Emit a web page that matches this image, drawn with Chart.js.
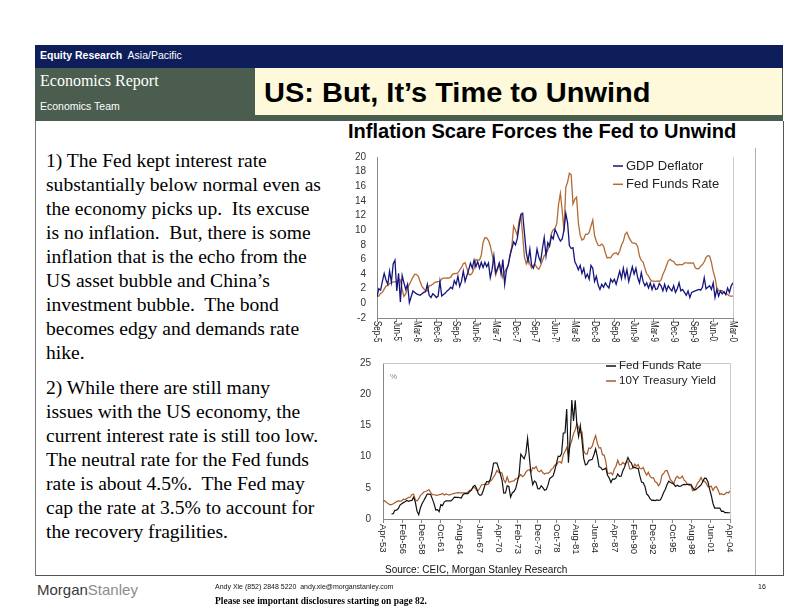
<!DOCTYPE html>
<html lang="en">
<head>
<meta charset="utf-8">
<title>US: But, It's Time to Unwind</title>
<script src="https://cdn.jsdelivr.net/npm/chart.js@4.4.1/dist/chart.umd.min.js"></script>
<style>
  html, body { margin: 0; padding: 0; background: #fff; }
  body { position: relative; width: 792px; height: 612px; overflow: hidden; font-family: Arial, "Liberation Sans", sans-serif; }
  .abs { position: absolute; white-space: nowrap; }
  #bandTop { left: 35px; top: 45px; width: 748px; height: 23px; background: #0e1e5b; }
  #bandGreen { left: 35px; top: 68px; width: 748px; height: 53px; background: #4b5d4e; }
  #titleBox { left: 255px; top: 68px; width: 527px; height: 47px; background: #fdf9da; }
  #frame { left: 35px; top: 121px; width: 747px; height: 454px; border-left: 1px solid #777; border-right: 1px solid #555; border-bottom: 1px solid #555; }
  #chartEdge { left: 755px; top: 148px; width: 1px; height: 427px; background: #b0b0b0; }
  .white { color: #fff; }
  .serif { font-family: "Liberation Serif", "Times New Roman", serif; }
  .body { left: 46px; font-size: 18px; line-height: 24px; color: #000; transform: scaleX(1.087); transform-origin: left top; }
  canvas { position: absolute; }
</style>
</head>
<body>
  <div class="abs" id="bandTop"></div>
  <div class="abs white" style="left:40px; top:50px; font-size:10.5px; line-height:10.5px;"><b>Equity Research</b>&nbsp; Asia/Pacific</div>
  <div class="abs" id="bandGreen"></div>
  <div class="abs white serif" style="left:40px; top:72.6px; font-size:16px; line-height:16px;">Economics Report</div>
  <div class="abs white" style="left:40px; top:101.3px; font-size:10.5px; line-height:10.5px;">Economics Team</div>
  <div class="abs" id="titleBox"></div>
  <div class="abs" style="left:264px; top:78.8px; font-size:28px; line-height:28px; font-weight:bold; color:#000; transform:scaleX(1.035); transform-origin:left top;">US: But, It’s Time to Unwind</div>
  <div class="abs" id="frame"></div>
  <div class="abs" id="chartEdge"></div>

  <div class="abs serif body" style="top:148.9px;">1) The Fed kept interest rate<br>substantially below normal even as<br>the economy picks up.&nbsp; Its excuse<br>is no inflation.&nbsp; But, there is some<br>inflation that is the echo from the<br>US asset bubble and China’s<br>investment bubble.&nbsp; The bond<br>becomes edgy and demands rate<br>hike.</div>
  <div class="abs serif body" style="top:375.9px;">2) While there are still many<br>issues with the US economy, the<br>current interest rate is still too low.<br>The neutral rate for the Fed funds<br>rate is about 4.5%.&nbsp; The Fed may<br>cap the rate at 3.5% to account for<br>the recovery fragilities.</div>

  <div class="abs" style="left:348px; top:122px; font-size:19.5px; line-height:19.5px; font-weight:bold; color:#000; transform:scaleX(1.027); transform-origin:left top;">Inflation Scare Forces the Fed to Unwind</div>
  <canvas id="inflationChart" width="420" height="202" style="left:340px; top:140px;"></canvas>
  <canvas id="yieldChart" width="420" height="220" style="left:340px; top:345px;"></canvas>
  <div class="abs" style="left:385px; top:564.7px; font-size:10px; line-height:10px; color:#111;">Source: CEIC, Morgan Stanley Research</div>

  <div class="abs" style="left:37px; top:582px; font-size:15px; line-height:15px;"><span style="color:#3a3a3a;">Morgan</span><span style="color:#8c8c8c;">Stanley</span></div>
  <div class="abs" style="left:215px; top:583.2px; font-size:7px; line-height:7px; color:#111;">Andy Xie (852) 2848 5220&nbsp; andy.xie@morganstanley.com</div>
  <div class="abs" style="left:758px; top:583.2px; font-size:7px; line-height:7px; color:#111;">16</div>
  <div class="abs serif" style="left:215px; top:597px; font-size:9.5px; line-height:9.5px; font-weight:bold; color:#000;">Please see important disclosures starting on page 82.</div>

<script>
// --- DADOS: GRÁFICO 1 (trimestral, Sep-54 .. Mar-04) ---
const inflationTickLabels = ['Sep-54', 'Jun-57', 'Mar-60', 'Dec-62', 'Sep-65', 'Jun-68', 'Mar-71', 'Dec-73', 'Sep-76', 'Jun-79',
  'Mar-82', 'Dec-84', 'Sep-87', 'Jun-90', 'Mar-93', 'Dec-95', 'Sep-98', 'Jun-01', 'Mar-04'];
const QUARTERS_PER_TICK = 11;

const gdpDeflator = [
  0.9, 2.0, 1.8, 3.0, 4.1, 3.2, 2.6, 4.4, 2.9, 5.4,
  5.9, 1.7, 4.1, 0.2, 3.8, 2.8, 1.9, 2.6, 0.1, 0.9,
  1.7, 1.5, 1.3, 1.2, 1.1, 1.3, 1.5, 1.6, 2.6, 1.1,
  0.8, 1.3, 1.1, 0.8, 1.0, 3.0, 1.0, 1.2, 1.4, 1.7,
  1.9, 2.2, 2.0, 3.1, 2.6, 3.7, 2.3, 3.0, 4.4, 3.0,
  3.8, 4.6, 5.5, 4.8, 5.9, 5.0, 5.7, 4.8, 5.6, 4.9,
  5.6, 5.0, 5.5, 3.5, 4.6, 6.5, 4.2, 4.8, 5.5, 4.0,
  6.0, 2.6, 4.5, 5.3, 6.6, 7.5, 8.4, 8.0, 8.8, 10.5,
  12.1, 12.3, 9.6, 7.0, 5.7, 7.4, 5.2, 4.8, 5.7, 7.4,
  6.3, 5.7, 7.5, 9.0, 6.5, 8.3, 7.8, 9.2, 8.8, 10.1,
  9.6, 9.0, 8.5, 8.8, 10.0, 12.3, 11.0, 7.9, 7.5, 7.6,
  5.7, 5.2, 4.6, 5.2, 4.1, 4.8, 3.5, 4.0, 3.3, 5.2,
  4.8, 3.0, 3.7, 2.5, 1.9, 2.6, 2.2, 2.8, 2.4, 2.1,
  3.3, 2.9, 3.3, 2.6, 3.5, 4.4, 3.4, 4.8, 3.5, 4.6,
  3.0, 4.0, 5.0, 4.0, 4.8, 3.5, 2.8, 4.2, 3.0, 2.4,
  2.8, 2.1, 2.8, 1.9, 2.6, 1.9, 2.0, 2.7, 2.4, 1.7,
  2.6, 1.7, 2.4, 2.0, 1.7, 2.4, 1.5, 2.0, 2.8, 1.7,
  1.9, 1.5, 1.1, 1.7, 0.8, 1.5, 1.6, 1.7, 1.8, 1.9,
  1.8, 2.2, 3.5, 2.0, 2.2, 2.4, 1.9, 2.8, 0.8, 1.9,
  1.0, 1.7, 1.3, 1.6, 1.2, 2.1, 1.5, 2.4, 2.8
];

const fedFundsQuarterly = [
  1.0, 1.0,
  1.35, 1.5, 1.94, 2.36,   2.48, 2.69, 2.81, 2.93,   2.93, 3.0, 3.23, 3.2,   1.86, 0.94, 1.32, 2.16,
  2.57, 3.08, 3.58, 3.99,  3.93, 3.70, 2.94, 2.30,   2.0, 1.73, 1.68, 2.40,  2.46, 2.61, 2.85, 2.92,
  2.96, 2.96, 3.33, 3.45,  3.46, 3.49, 3.46, 3.58,   3.97, 4.08, 4.07, 4.17, 4.56, 4.91, 5.41, 5.56,
  4.82, 3.99, 3.89, 4.17,  4.79, 5.98, 5.94, 5.92,   6.57, 8.33, 8.98, 8.94, 8.57, 7.88, 6.70, 5.57,
  3.86, 4.56, 5.47, 4.75,  3.55, 4.30, 4.74, 5.14,   6.54, 7.82, 10.56, 10.0, 9.32, 11.25, 12.09, 9.35,
  6.30, 5.42, 6.16, 5.41,  4.83, 5.20, 5.28, 4.87,   4.66, 5.16, 5.82, 6.51, 6.76, 7.28, 8.10, 9.58,
  10.07, 10.18, 10.95, 13.58, 15.05, 12.69, 9.84, 15.85, 16.57, 17.78, 17.58, 13.59, 14.23, 14.51, 11.01, 9.29,
  8.65, 8.80, 9.46, 9.43,  9.69, 10.56, 11.39, 9.27, 8.48, 7.92, 7.90, 8.10, 7.83, 6.92, 6.21, 6.27,
  6.22, 6.65, 6.84, 6.92,  6.66, 7.16, 7.98, 8.47,   9.44, 9.73, 9.08, 8.61, 8.25, 8.24, 8.16, 7.74,
  6.43, 5.86, 5.64, 4.82,  4.02, 3.77, 3.26, 3.04,   3.04, 3.00, 3.06, 2.99, 3.21, 3.94, 4.49, 5.17,
  5.81, 6.02, 5.80, 5.72,  5.36, 5.24, 5.31, 5.28,   5.28, 5.52, 5.53, 5.51, 5.52, 5.50, 5.53, 4.86,
  4.73, 4.75, 5.09, 5.31,  5.68, 6.27, 6.52, 6.47,   5.59, 4.33, 3.50, 2.13, 1.73, 1.75, 1.74, 1.44,
  1.25, 1.25, 1.02, 1.00,
  1.00
];

// --- DADOS: GRÁFICO 2 (um ponto a cada 3 meses, Apr-53 .. Apr-04) ---
const yieldTickLabels = ['Apr-53', 'Feb-56', 'Dec-58', 'Oct-61', 'Aug-64', 'Jun-67', 'Apr-70', 'Feb-73', 'Dec-75', 'Oct-78',
  'Aug-81', 'Jun-84', 'Apr-87', 'Feb-90', 'Dec-92', 'Oct-95', 'Aug-98', 'Jun-01', 'Apr-04'];
const MONTHS_PER_TICK = 34;
const MONTHS_PER_POINT = 3;

const fedFundsMonthly = [
  null, null, null,
  null, null, 0.80, 0.85,   1.39, 1.43, 1.68, 2.24,   2.45, 2.62, 2.75, 2.96,   2.84, 2.96, 2.99, 3.50,
  2.72, 1.26, 0.68, 1.80,   2.48, 2.96, 3.47, 4.00,   3.99, 3.92, 3.23, 2.47,   1.45, 1.50, 1.17, 2.29,
  2.15, 2.71, 2.92, 2.90,   2.92, 2.90, 3.18, 3.50,   3.48, 3.48, 3.42, 3.36,   3.90, 4.07, 4.09, 4.08,
  4.42, 4.65, 5.17, 5.40,   4.94, 4.05, 3.79, 3.88,   4.61, 5.50, 6.02, 5.92,   6.30, 7.41, 8.95, 9.00,
  8.98, 8.10, 7.18, 6.20,   4.14, 4.16, 5.31, 5.20,   3.50, 4.17, 4.40, 4.87,   5.94, 7.12, 10.40, 10.01,
  9.65, 10.51, 12.92, 10.06, 7.13, 5.49, 6.10, 5.82,  4.87, 4.82, 5.31, 5.03,   4.61, 4.73, 5.42, 6.47,
  6.70, 6.90, 7.81, 8.96,   10.07, 10.01, 10.47, 13.77, 13.82, 17.61, 9.03, 12.81, 19.08, 15.72, 19.04, 15.08,
  13.22, 14.94, 12.59, 9.71, 8.68, 8.80, 9.37, 9.48,  9.56, 10.29, 11.23, 9.99,  8.35, 8.27, 7.88, 7.99,
  8.14, 6.99, 6.56, 5.85,   6.43, 6.36, 6.58, 7.22,   6.83, 6.87, 7.75, 8.30,   9.12, 9.84, 9.24, 8.99,
  8.23, 8.26, 8.15, 8.11,   6.91, 5.91, 5.82, 5.21,   4.03, 3.73, 3.25, 2.99,   3.02, 2.96, 3.06, 2.99,
  3.05, 3.56, 4.26, 4.76,   5.53, 6.05, 5.85, 5.76,   5.56, 5.22, 5.40, 5.24,   5.25, 5.45, 5.54, 5.50,
  5.56, 5.45, 5.54, 5.07,   4.63, 4.74, 4.99, 5.20,   5.45, 6.02, 6.54, 6.51,   5.98, 4.80, 3.77, 2.49,
  1.73, 1.75, 1.73, 1.75,   1.24, 1.26, 1.01, 1.01,
  1.00, 1.00
];

const treasury10y = [
  2.83, 2.93, 2.66,
  2.48, 2.29, 2.30, 2.43,   2.61, 2.78, 2.90, 2.87,   2.90, 3.18, 3.11, 3.30,   3.46, 3.48, 3.93, 3.97,
  3.09, 2.88, 3.21, 3.80,   4.02, 4.32, 4.40, 4.53,   4.72, 4.28, 3.90, 3.89,   3.84, 3.78, 3.92, 3.94,
  4.08, 3.84, 4.01, 3.93,   3.83, 3.97, 4.02, 4.11,   4.17, 4.23, 4.20, 4.19,   4.19, 4.20, 4.20, 4.34,
  4.61, 4.69, 5.02, 5.01,   4.58, 4.55, 5.01, 5.48,   5.53, 5.59, 5.50, 5.58,   6.04, 6.26, 6.72, 7.16,
  7.79, 7.46, 7.46, 7.33,   6.24, 5.83, 6.73, 5.93,   5.95, 6.08, 6.11, 6.43,   6.46, 6.77, 7.13, 6.79,
  6.99, 7.51, 7.81, 7.90,   7.50, 8.23, 8.06, 8.43,   7.74, 7.56, 7.83, 7.41,   7.21, 7.37, 7.33, 7.52,
  7.96, 8.15, 8.64, 8.64,   9.10, 9.18, 8.95, 10.30,  10.80, 11.47, 10.25, 11.75, 12.57, 13.68, 14.28, 15.32,
  14.59, 13.87, 13.95, 10.91, 10.46, 10.38, 11.38, 11.28, 11.67, 12.63, 13.36, 12.16, 11.38, 11.43, 10.31, 10.24,
  9.19, 7.30, 7.30, 7.43,   7.08, 8.02, 8.45, 9.42,   8.67, 8.72, 9.06, 8.80,   9.09, 9.18, 8.02, 8.01,
  8.21, 8.79, 8.47, 8.72,   8.09, 8.04, 8.27, 7.53,   7.03, 7.48, 6.84, 6.59,   6.60, 5.97, 5.81, 5.33,
  5.75, 7.04, 7.30, 7.74,   7.78, 7.06, 6.28, 6.04,   5.65, 6.51, 6.87, 6.53,   6.58, 6.89, 6.22, 6.03,
  5.54, 5.64, 5.46, 4.53,   4.72, 5.18, 5.79, 6.11,   6.66, 5.99, 6.05, 5.74,   5.16, 5.14, 5.24, 4.57,
  5.04, 5.21, 4.65, 3.94,   4.05, 3.90, 3.98, 4.29,
  4.15, 4.50
];

// --- CONFIGURAÇÃO GERAL ---
Chart.defaults.font.family = 'Arial, "Liberation Sans", sans-serif';
Chart.defaults.font.size = 10;
Chart.defaults.color = '#333';

// desenha moldura, rótulos verticais (de cima para baixo) e legenda dentro do gráfico
const slidePlugin = {
  id: 'slide',
  afterDraw(chart, args, opts) {
    const { ctx, chartArea: area } = chart;
    const xScale = chart.scales.x;
    const top = Math.round(area.top) + 0.5;
    const right = Math.round(area.right) + 0.5;

    ctx.save();
    ctx.strokeStyle = '#c8c8c8';
    ctx.lineWidth = 1;
    ctx.beginPath();
    if (opts.frameTop) {
      ctx.moveTo(area.left, top);
      ctx.lineTo(right, top);
    } else {
      ctx.moveTo(right, top);
    }
    ctx.lineTo(right, area.bottom);
    ctx.stroke();

    ctx.fillStyle = '#222';
    ctx.font = opts.tickFont;
    ctx.textAlign = 'left';
    ctx.textBaseline = 'middle';
    xScale.ticks.forEach((tick, i) => {
      const px = xScale.getPixelForValue(tick.value);
      ctx.save();
      ctx.translate(px, area.bottom + opts.tickGap);
      ctx.rotate(Math.PI / 2);
      ctx.scale(opts.tickSquash, 1); // rótulos mais curtos no gráfico de cima
      ctx.fillText(opts.tickLabels[i] || '', 0, 0);
      ctx.restore();
    });

    ctx.font = opts.legendFont;
    chart.data.datasets.forEach((ds, i) => {
      const y = opts.legendY + i * opts.legendGap;
      ctx.strokeStyle = ds.borderColor;
      ctx.lineWidth = 1.5;
      ctx.beginPath();
      ctx.moveTo(opts.legendX, y);
      ctx.lineTo(opts.legendX + 10, y);
      ctx.stroke();
      ctx.fillStyle = '#222';
      ctx.fillText(ds.label, opts.legendX + 13, y);
    });

    if (opts.unit) {
      ctx.font = '8px Arial, sans-serif';
      ctx.fillStyle = '#888';
      ctx.fillText(opts.unit, area.left + 7, area.top + 14);
    }
    ctx.restore();
  }
};

const lineSet = (label, values, step, color, width) => ({
  label,
  data: values.map((v, i) => ({ x: i * step, y: v })),
  borderColor: color,
  borderWidth: width,
  pointRadius: 0,
  tension: 0,
  spanGaps: false
});

const xAxis = (maxValue, tickStep, height) => ({
  type: 'linear',
  min: 0,
  max: maxValue,
  afterBuildTicks: (scale) => {
    const ticks = [];
    for (let v = 0; v <= maxValue; v += tickStep) ticks.push({ value: v });
    scale.ticks = ticks;
  },
  afterFit: (scale) => { scale.height = height; },
  ticks: { display: false },
  grid: { display: true, drawOnChartArea: false, drawTicks: true, tickLength: 4, color: '#888' },
  border: { display: true, color: '#888' }
});

const yAxis = (min, max, step, width, pad) => ({
  min, max,
  afterFit: (scale) => { scale.width = width; },
  ticks: { stepSize: step, padding: pad, autoSkip: false, color: '#333', font: { size: 10 } },
  grid: { display: false, drawTicks: false },
  border: { display: true, color: '#888' }
});

// --- GRÁFICO 1: DEFLATOR x FED FUNDS ---
const inflationChart = new Chart(document.getElementById('inflationChart').getContext('2d'), {
  type: 'line',
  data: {
    datasets: [
      lineSet('GDP Deflator', gdpDeflator, 1, '#15157e', 1.3),
      lineSet('Fed Funds Rate', fedFundsQuarterly, 1, '#b36a34', 1.3)
    ]
  },
  options: {
    responsive: false,
    animation: false,
    layout: { padding: { top: 12, right: 27, bottom: 0, left: 0 } },
    scales: {
      x: xAxis(gdpDeflator.length - 1, QUARTERS_PER_TICK, 24),
      y: yAxis(-2, 20, 2, 37, 11)
    },
    plugins: {
      legend: { display: false },
      tooltip: { enabled: false },
      slide: {
        frameTop: false,
        tickLabels: inflationTickLabels,
        tickFont: '10px Arial, "Liberation Sans", sans-serif',
        tickGap: 3, tickSquash: 0.8,
        legendFont: '13px Arial, "Liberation Sans", sans-serif',
        legendX: 273, legendY: 26, legendGap: 18.3
      }
    }
  },
  plugins: [slidePlugin]
});

// --- GRÁFICO 2: FED FUNDS x 10Y TREASURY ---
const yieldChart = new Chart(document.getElementById('yieldChart').getContext('2d'), {
  type: 'line',
  data: {
    datasets: [
      lineSet('Fed Funds Rate', fedFundsMonthly, MONTHS_PER_POINT, '#111111', 1.2),
      lineSet('10Y Treasury Yield', treasury10y, MONTHS_PER_POINT, '#a85a2a', 1.2)
    ]
  },
  options: {
    responsive: false,
    animation: false,
    layout: { padding: { top: 10, right: 30, bottom: 0, left: 0 } },
    scales: {
      x: xAxis((treasury10y.length - 1) * MONTHS_PER_POINT, MONTHS_PER_TICK, 46),
      y: yAxis(0, 25, 5, 43, 12)
    },
    plugins: {
      legend: { display: false },
      tooltip: { enabled: false },
      slide: {
        frameTop: true,
        unit: '%',
        tickLabels: yieldTickLabels,
        tickFont: '9.5px Arial, "Liberation Sans", sans-serif',
        tickGap: 5, tickSquash: 1,
        legendFont: '11.5px Arial, "Liberation Sans", sans-serif',
        legendX: 266, legendY: 21, legendGap: 15
      }
    }
  },
  plugins: [slidePlugin]
});
</script>
</body>
</html>
